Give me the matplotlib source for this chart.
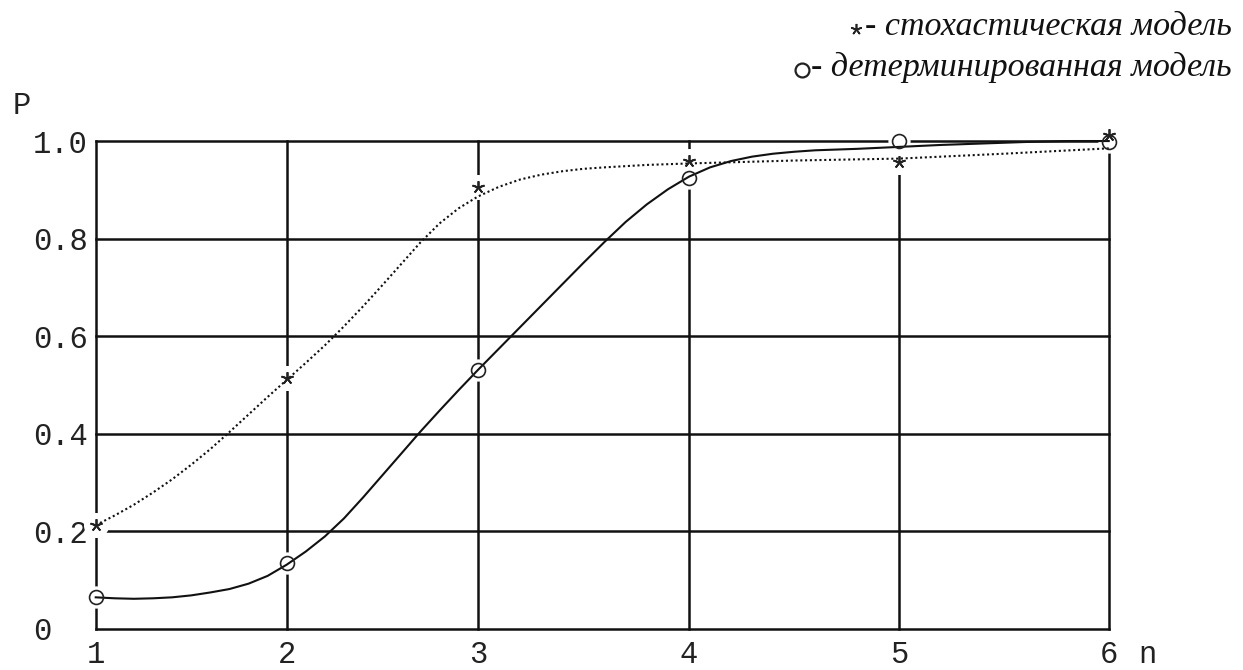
import matplotlib
matplotlib.use('Agg')

import numpy as np
import matplotlib.pyplot as plt

# measured points
n_points = [1, 2, 3, 4, 5, 6]
p_stochastic = [0.212, 0.513, 0.906, 0.959, 0.958, 1.012]
p_determ = [0.064, 0.134, 0.530, 0.925, 1.000, 0.999]

# smoothed curves
curve_det_n = [1.0, 1.1, 1.2, 1.3, 1.4, 1.5, 1.6, 1.7, 1.8, 1.9, 2.0, 2.1, 2.2, 2.3,
               2.4, 2.5, 2.6, 2.7, 2.8, 2.9, 3.0, 3.1, 3.2, 3.3, 3.4, 3.5, 3.6, 3.7,
               3.8, 3.9, 4.0, 4.1, 4.2, 4.3, 4.4, 4.5, 4.6, 4.8, 5.0, 5.2, 5.4, 5.6,
               5.8, 6.0]
curve_det_p = [0.064, 0.062, 0.061, 0.062, 0.064, 0.068, 0.074, 0.081, 0.092, 0.108,
               0.131, 0.158, 0.189, 0.226, 0.269, 0.314, 0.359, 0.404, 0.447, 0.489,
               0.530, 0.574, 0.618, 0.662, 0.706, 0.750, 0.793, 0.834, 0.870, 0.901,
               0.927, 0.946, 0.959, 0.968, 0.974, 0.978, 0.981, 0.984, 0.988, 0.992,
               0.995, 0.998, 1.000, 1.000]

curve_sto_n = [1.0, 1.1, 1.2, 1.3, 1.4, 1.5, 1.6, 1.7, 1.8, 1.9, 2.0, 2.1, 2.2, 2.3,
               2.4, 2.5, 2.6, 2.7, 2.8, 2.9, 3.0, 3.1, 3.2, 3.3, 3.4, 3.5, 3.6, 3.8,
               4.0, 4.5, 5.0, 5.5, 6.0]
curve_sto_p = [0.212, 0.232, 0.254, 0.279, 0.306, 0.336, 0.368, 0.403, 0.439, 0.475,
               0.510, 0.545, 0.581, 0.620, 0.661, 0.704, 0.748, 0.792, 0.831, 0.862,
               0.886, 0.906, 0.921, 0.931, 0.938, 0.943, 0.946, 0.951, 0.954, 0.960,
               0.964, 0.974, 0.985]

x_ticks = [1, 2, 3, 4, 5, 6]
y_ticks = [0, 0.2, 0.4, 0.6, 0.8, 1.0]
y_labels = ['0', '0.2', '0.4', '0.6', '0.8', '1.0']
legend_sto = 'стохастическая модель'
legend_det = 'детерминированная модель'

# the original x axis is not evenly spaced (pixel offsets of the grid lines)
GRID_OFFSETS = [0, 191, 382, 593.3, 803.6, 1013]


def fwd(x):
    x = np.asarray(x, dtype=float)
    y = np.interp(x, n_points, GRID_OFFSETS)
    y = np.where(x < 1, (x - 1) * 191, y)
    y = np.where(x > 6, 1013 + (x - 6) * 209.4, y)
    return y


def inv(y):
    y = np.asarray(y, dtype=float)
    x = np.interp(y, GRID_OFFSETS, n_points)
    x = np.where(y < 0, 1 + y / 191, x)
    x = np.where(y > 1013, 6 + (y - 1013) / 209.4, x)
    return x


MONO = 'Liberation Mono'
SERIF = ['Liberation Serif', 'DejaVu Serif']

fig = plt.figure(figsize=(12.43, 6.70), dpi=100)
ax = fig.add_axes([0.0770, 0.0619, 0.8150, 0.7276])
ax.set_xscale('function', functions=(fwd, inv))
ax.set_xlim(1, 6)
ax.set_ylim(0, 1)

for s in ax.spines.values():
    s.set_visible(False)

# grid drawn by hand so the edges are not clipped
for xv in x_ticks:
    ax.axvline(xv, color='#111111', lw=1.8, zorder=1, clip_on=False)
for yv in y_ticks:
    ax.axhline(yv, color='#111111', lw=1.8, zorder=1, clip_on=False)

# white halos that break the grid round the markers
ax.plot(n_points, p_stochastic, ls='none', marker='o', ms=17, mfc='white', mec='white',
        zorder=2, clip_on=False)
ax.plot(n_points, p_determ, ls='none', marker='o', ms=15, mfc='white', mec='white',
        zorder=2, clip_on=False)

ax.plot(curve_sto_n, curve_sto_p, color='#111111', lw=1.5, ls=(0, (1, 1.3)), zorder=3,
        clip_on=False)
ax.plot(curve_det_n, curve_det_p, color='#111111', lw=1.5, zorder=3, clip_on=False)

ax.plot(n_points, p_stochastic, ls='none', marker=(5, 2, 0), ms=9, mew=1.3,
        color='#222222', zorder=4, clip_on=False)
ax.plot(n_points, p_determ, ls='none', marker='o', ms=10, mew=1.2, mfc='none',
        mec='#222222', zorder=4, clip_on=False)

ax.set_xticks(x_ticks)
ax.set_xticklabels([str(v) for v in x_ticks], family=MONO, fontsize=22, color='#222222')
ax.set_yticks(y_ticks)
ax.set_yticklabels(y_labels, family=MONO, fontsize=22, color='#222222')
ax.tick_params(axis='both', length=0)
ax.tick_params(axis='x', pad=8)
ax.tick_params(axis='y', pad=45)
for lab in ax.get_yticklabels():
    lab.set_ha('left')

fig.text(13 / 1243, 1 - 106 / 670, 'P', family=MONO, fontsize=22, color='#222222',
         ha='left', va='center')

# legend written as text at the top right
t1 = fig.text(1232 / 1243, 1 - 35 / 670, '- ' + legend_sto, family=SERIF, style='italic',
              fontsize=24.5, color='#111111', ha='right', va='baseline')
t2 = fig.text(1232 / 1243, 1 - 76 / 670, '- ' + legend_det, family=SERIF, style='italic',
              fontsize=24.5, color='#111111', ha='right', va='baseline')

fig.canvas.draw()
r = fig.canvas.get_renderer()

# "n" sits on the same line as the x tick labels
xlab = ax.get_xticklabels()[-1]
bx = xlab.get_window_extent(r)
fig.text(1147 / 1243, bx.y0 / 670, 'n', family=MONO, fontsize=22, color='#222222',
         ha='center', va='bottom')

b1 = t1.get_window_extent(r)
b2 = t2.get_window_extent(r)
fig.add_artist(plt.Line2D([b1.x0 - 9], [670 - 29], marker=(5, 2, 0), ms=8, mew=1.2,
                          color='#222222', transform=None))
fig.add_artist(plt.Line2D([b2.x0 - 9], [670 - 70], marker='o', ms=10, mew=1.6, mfc='none',
                          mec='#222222', transform=None))

fig.savefig('out.png', dpi=100)
